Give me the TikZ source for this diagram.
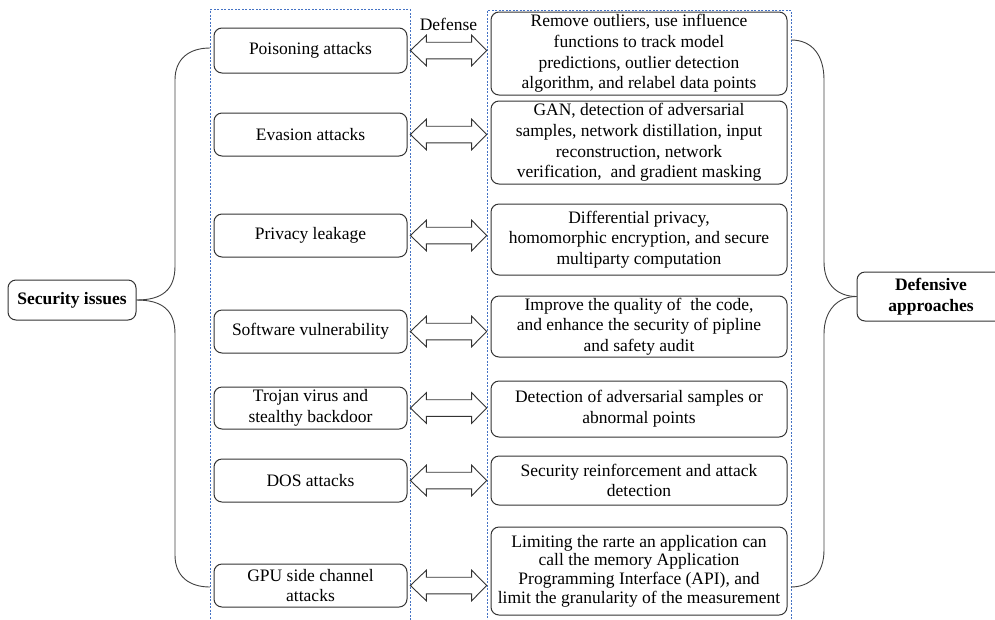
\documentclass[tikz,border=0pt]{standalone}
\usepackage{fontspec}
\setmainfont{Liberation Serif}
\usetikzlibrary{calc}
\definecolor{frameblue}{RGB}{68,114,196}
\newcommand\dblarrow[1]{%
  \draw[darrow] let \p1=(#1.center), \p2=(lf.east), \p3=(rf.west) in
    (\x2,\y1) -- (\x2+16pt,\y1+15.3pt) -- (\x2+16pt,\y1+8.3pt) -- (\x3-15pt,\y1+8.3pt)
    -- (\x3-15pt,\y1+15.3pt) -- (\x3,\y1) -- (\x3-15pt,\y1-15.3pt) -- (\x3-15pt,\y1-8.3pt)
    -- (\x2+16pt,\y1-8.3pt) -- (\x2+16pt,\y1-15.3pt) -- cycle;}
\begin{document}
\begin{tikzpicture}[x=1pt,y=-1pt,
  box/.style={draw=black!80, line width=1pt, rounded corners=8pt, align=center,
    inner sep=1pt, font=\fontsize{17.5}{20.7}\selectfont, text=black},
  lbox/.style={box, minimum width=193pt, minimum height=43pt},
  rbox/.style={box, minimum width=296pt},
  frame/.style={draw=frameblue, dash pattern=on 2pt off 1.5pt, line width=0.7pt,
    inner sep=0pt, rectangle},
  brace/.style={draw=black!75, line width=0.9pt},
  darrow/.style={draw=black!80, line width=0.9pt, fill=white},
  lbl/.style={font=\fontsize{17.5}{20.7}\selectfont, inner sep=0pt}]
\useasboundingbox (0,0) rectangle (995,619);
\clip (0,0) rectangle (995,619);

% dashed frames
\node[frame, minimum width=200pt, minimum height=620.5pt] (lf) at (310,319.75) {};
\node[frame, minimum width=304pt, minimum height=620pt] (rf) at (639,320) {};

\node[lbl] (deflbl) at (448.5,24) {Defense};

% left boxes
\node[lbox, minimum height=45pt] (p1) at (310.5,50.5) {Poisoning attacks};
\node[lbox] (p2) at (310.5,134.5) {Evasion attacks};
\node[lbox] (p3) at (310.5,235.5) {Privacy leakage};
\node[lbox] (p4) at (310.5,331.5) {Software vulnerability};
\node[lbox, minimum height=42pt] (p5) at (310.5,408) {Trojan virus and\\stealthy backdoor};
\node[lbox] (p6) at (310.5,480.5) {DOS attacks};
\node[lbox] (p7) at (310.5,585.5) {GPU side channel\\attacks};

% right boxes
\node[rbox, minimum height=83pt] (d1) at (639,53.5) {Remove outliers, use influence\\functions to track model\\predictions, outlier detection\\algorithm, and relabel data points};
\node[rbox, minimum height=83pt] (d2) at (639,142.5) {GAN, detection of adversarial\\samples, network distillation, input\\reconstruction, network\\verification,\ \ and gradient masking};
\node[rbox, minimum height=71pt] (d3) at (639,239.5) {Differential privacy,\\homomorphic encryption, and secure\\multiparty computation};
\node[rbox, minimum height=61pt] (d4) at (639,326.5) {Improve the quality of\ \ the code,\\and enhance the security of pipline\\and safety audit};
\node[rbox, minimum height=56pt] (d5) at (639,409) {Detection of adversarial samples or\\abnormal points};
\node[rbox, minimum height=49pt] (d6) at (639,480.5) {Security reinforcement and attack\\detection};
\node[rbox, minimum height=88pt, font=\fontsize{17.5}{18.6}\selectfont] (d7) at (639,571) {Limiting the rarte an application can\\call the memory Application\\Programming Interface (API), and\\limit the granularity of the measurement};

% side boxes
\node[box, minimum width=128pt, minimum height=40pt, font=\fontsize{17.5}{20.7}\selectfont\bfseries] (sec) at (72,300) {Security issues};
\node[box, minimum width=148pt, minimum height=49pt, font=\fontsize{17.5}{20.7}\selectfont\bfseries] (def) at (931,296.5) {Defensive\\approaches};

% double arrows
\foreach \nm in {p1,p2,p3,p4,p5,p6,p7} {\dblarrow{\nm}}

% brace ends
\coordinate (lt) at (210,48);
\coordinate (lb) at (210,587);
\coordinate (rt) at (791,40);
\coordinate (rb) at (791,587);

% left brace
\draw[brace] (sec.east) .. controls (162,300) and (175,290) .. (175,266) -- (175,80)
  .. controls (175,58) and (190,48) .. (lt);
\draw[brace] (sec.east) .. controls (162,300) and (175,310) .. (175,334) -- (175,555)
  .. controls (175,577) and (190,587) .. (lb);
% right brace
\draw[brace] (rt) .. controls (812,40) and (824,55) .. (824,80) -- (824,262)
  .. controls (824,285) and (838,296.5) .. (def.west);
\draw[brace] (def.west) .. controls (838,296.5) and (824,310) .. (824,334) -- (824,550)
  .. controls (824,574) and (810,587) .. (rb);
\end{tikzpicture}
\end{document}
